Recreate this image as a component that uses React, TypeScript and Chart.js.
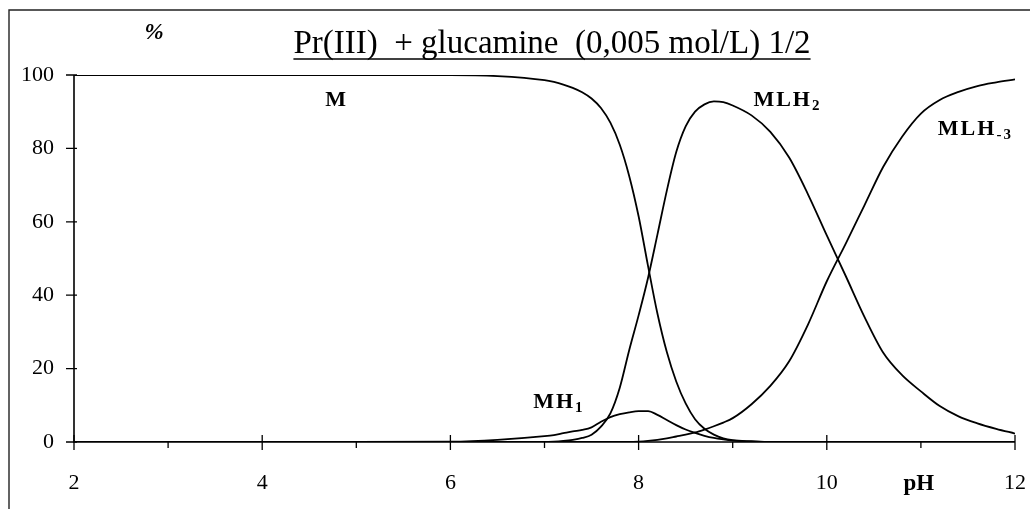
import React, { useEffect, useRef } from 'react';
import { Chart, registerables } from 'chart.js';

Chart.register(...registerables);

// pH grid shared by all species
const pH = [2, 3, 4, 5, 6, 6.5, 7.0, 7.1, 7.2, 7.3, 7.4, 7.5, 7.6, 7.7, 7.8, 7.9, 8.0, 8.1, 8.2, 8.3, 8.4, 8.5, 8.6, 8.7, 8.8, 8.9, 9.0, 9.2, 9.4, 9.6, 9.8, 10.0, 10.2, 10.4, 10.6, 10.8, 11.0, 11.2, 11.4, 11.6, 11.8, 12.0];

// % of species
const M = [100, 100, 100, 100, 100, 99.7, 98.6, 98.1, 97.4, 96.5, 95.3, 93.6, 91, 87, 81, 72.5, 61.5, 48, 35, 24.5, 16.5, 10.5, 6.2, 3.6, 2.0, 1.0, 0.5, 0.2, 0, 0, 0, 0, 0, 0, 0, 0, 0, 0, 0, 0, 0, 0];
const MH1 = [0, 0, 0, 0, 0.1, 0.6, 1.6, 1.9, 2.4, 2.9, 3.3, 4.0, 5.5, 6.8, 7.6, 8.1, 8.4, 8.4, 7.4, 6.0, 4.6, 3.4, 2.5, 1.7, 1.1, 0.7, 0.4, 0.1, 0, 0, 0, 0, 0, 0, 0, 0, 0, 0, 0, 0, 0, 0];
const MLH2 = [0, 0, 0, 0, 0, 0, 0, 0.1, 0.3, 0.6, 1.1, 2.0, 4.2, 7.8, 14.8, 25, 34.5, 44.7, 56.5, 68.5, 79, 86, 90, 92, 92.8, 92.6, 91.7, 89, 84.5, 77.5, 67.5, 56.3, 45.3, 34.1, 24.3, 18.2, 13.8, 9.8, 7.0, 5.1, 3.6, 2.3];
const MLH3 = [0, 0, 0, 0, 0, 0, 0, 0, 0, 0, 0, 0, 0, 0, 0, 0, 0.1, 0.3, 0.6, 1.0, 1.5, 2.0, 2.6, 3.4, 4.3, 5.3, 6.5, 10.3, 15.3, 22, 32, 43.8, 54, 64.5, 75, 83.2, 89.5, 93.2, 95.4, 97, 98, 98.8];

const SERIES = [M, MH1, MLH2, MLH3];

const X_MIN = 2;
const X_MAX = 12;
const Y_MIN = 0;
const Y_MAX = 100;
const Y_STEP = 20;
const X_STEP = 1;

const TITLE = 'Pr(III)  + glucamine  (0,005 mol/L) 1/2';
const Y_UNIT = '%';
const X_UNIT = 'pH';

// species labels: text, subscript, anchor in data coords (pH, %)
const LABEL_TEXT = ['M', 'MH', 'MLH', 'MLH'];
const LABEL_SUB = ['', '1', '2', '-3'];
const LABEL_PH = [4.67, 6.88, 9.22, 11.18];
const LABEL_PCT = [93.0, 10.9, 93.2, 85.3];

const SERIF = "'Liberation Serif', 'Times New Roman', serif";

const decorPlugin = {
  id: 'decor',
  beforeDatasetsDraw(chart: any) {
    const { ctx, scales } = chart;
    const x = scales.x;
    const y = scales.y;
    const x0 = x.getPixelForValue(X_MIN);
    const x1 = x.getPixelForValue(X_MAX);
    const y0 = y.getPixelForValue(Y_MIN);
    const y1 = y.getPixelForValue(Y_MAX);
    ctx.save();
    ctx.strokeStyle = '#000';
    ctx.lineWidth = 1.6;
    ctx.beginPath();
    ctx.moveTo(x0, y1);
    ctx.lineTo(x0, y0);
    ctx.lineTo(x1, y0);
    ctx.stroke();
    ctx.lineWidth = 1.3;
    ctx.beginPath();
    y.ticks.forEach((t: any) => {
      const py = y.getPixelForValue(t.value);
      ctx.moveTo(x0 - 8, py);
      ctx.lineTo(x0 + 3, py);
    });
    x.ticks.forEach((t: any) => {
      const px = x.getPixelForValue(t.value);
      if (Math.round(t.value) % 2 === 0) {
        ctx.moveTo(px, y0 - 7);
        ctx.lineTo(px, y0 + 8);
      } else {
        ctx.moveTo(px, y0);
        ctx.lineTo(px, y0 + 6);
      }
    });
    ctx.stroke();
    ctx.restore();
  },
  afterDraw(chart: any) {
    const { ctx, scales, width, height } = chart;
    const x = scales.x;
    const y = scales.y;
    ctx.save();
    // outer frame
    ctx.strokeStyle = '#222';
    ctx.lineWidth = 1.4;
    ctx.beginPath();
    ctx.moveTo(9, height);
    ctx.lineTo(9, 10);
    ctx.lineTo(width, 10);
    ctx.stroke();

    ctx.fillStyle = '#000';
    // title, underlined
    ctx.font = `33px ${SERIF}`;
    ctx.textAlign = 'left';
    ctx.textBaseline = 'alphabetic';
    const tw = ctx.measureText(TITLE).width;
    const tcx = 552;
    const tby = 53;
    ctx.fillText(TITLE, tcx - tw / 2, tby);
    ctx.lineWidth = 1.5;
    ctx.strokeStyle = '#000';
    ctx.beginPath();
    ctx.moveTo(tcx - tw / 2, tby + 6);
    ctx.lineTo(tcx + tw / 2, tby + 6);
    ctx.stroke();

    // % unit
    ctx.font = `italic bold 23px ${SERIF}`;
    ctx.textAlign = 'center';
    ctx.textBaseline = 'middle';
    ctx.fillText(Y_UNIT, 154, 33);

    // pH unit
    ctx.font = `bold 23px ${SERIF}`;
    ctx.fillText(X_UNIT, x.getPixelForValue(11) - 2, 484);

    // species labels
    ctx.textAlign = 'left';
    ctx.textBaseline = 'middle';
    (ctx as any).letterSpacing = '2px';
    LABEL_TEXT.forEach((txt, i) => {
      const px = x.getPixelForValue(LABEL_PH[i]);
      const py = y.getPixelForValue(LABEL_PCT[i]);
      ctx.font = `bold 22px ${SERIF}`;
      ctx.fillText(txt, px, py);
      const w = ctx.measureText(txt).width;
      if (LABEL_SUB[i]) {
        ctx.font = `bold 15px ${SERIF}`;
        ctx.fillText(LABEL_SUB[i], px + w, py + 6);
      }
    });
    (ctx as any).letterSpacing = '0px';
    ctx.restore();
  },
};

export default function App() {
  const ref = useRef<HTMLCanvasElement | null>(null);
  useEffect(() => {
    if (!ref.current) return;
    const datasets = SERIES.map((s) => ({
      data: pH.map((p, i) => ({ x: p, y: s[i] })),
      borderColor: '#000',
      borderWidth: 1.8,
      pointRadius: 0,
      fill: false,
      cubicInterpolationMode: 'monotone' as const,
    }));
    const chart = new Chart(ref.current, {
      type: 'line',
      data: { datasets },
      options: {
        animation: false,
        responsive: false,
        maintainAspectRatio: false,
        layout: { padding: { left: 0, right: 15, top: 75, bottom: 0 } },
        plugins: { legend: { display: false }, tooltip: { enabled: false }, title: { display: false } },
        scales: {
          x: {
            type: 'linear',
            min: X_MIN,
            max: X_MAX,
            grid: { display: false, drawTicks: false },
            border: { display: false },
            ticks: {
              stepSize: X_STEP,
              autoSkip: false,
              maxRotation: 0,
              padding: 28,
              color: '#000',
              font: { family: SERIF, size: 22 },
              callback: (v: any) => (Number(v) % 2 === 0 ? String(v) : ''),
            },
            afterFit: (s: any) => {
              s.height = 67;
              s.paddingLeft = 0;
              s.paddingRight = 0;
            },
          },
          y: {
            min: Y_MIN,
            max: Y_MAX,
            grid: { display: false, drawTicks: false },
            border: { display: false },
            ticks: {
              stepSize: Y_STEP,
              padding: 20,
              color: '#000',
              font: { family: SERIF, size: 22 },
            },
            afterFit: (s: any) => {
              s.width = 74;
              s.paddingTop = 0;
              s.paddingBottom = 0;
            },
          },
        },
      },
      plugins: [decorPlugin],
    });
    return () => chart.destroy();
  }, []);
  return (
    <div style={{ position: 'fixed', left: 0, top: 0, width: 1030, height: 509, background: '#fff' }}>
      <canvas ref={ref} width={1030} height={509} style={{ display: 'block' }} />
    </div>
  );
}
